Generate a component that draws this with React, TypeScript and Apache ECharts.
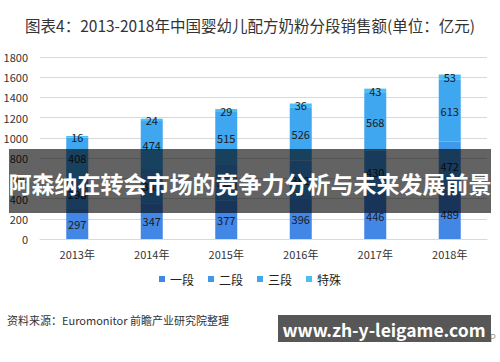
import React, { useEffect, useRef } from "react";
import * as echarts from "echarts";

const categories = ["2013年", "2014年", "2015年", "2016年", "2017年", "2018年"];
const stage1 = [297, 347, 377, 396, 446, 489];
const stage2 = [298, 345, 364, 382, 430, 472];
const stage3 = [408, 474, 515, 526, 568, 613];
const special = [16, 24, 29, 36, 43, 53];
const seriesNames = ["一段", "二段", "三段", "特殊"];
const yTicks = [0, 200, 400, 600, 800, 1000, 1200, 1400, 1600, 1800];

const colors = ["#4286e6", "#3f98ea", "#3fa7ef", "#4dbdf7"];
const font = '"Noto Sans CJK SC", "Noto Sans", sans-serif';

export default function App() {
  const ref = useRef<HTMLDivElement>(null);
  useEffect(() => {
    if (!ref.current) return;
    const chart = echarts.init(ref.current, undefined, { renderer: "svg" });
    const data = [stage1, stage2, stage3, special];
    chart.setOption({
      animation: false,
      textStyle: { fontFamily: font },
      title: {
        text: "图表4：2013-2018年中国婴幼儿配方奶粉分段销售额(单位：亿元)",
        left: "center",
        top: 12,
        textStyle: { fontSize: 15.5, fontWeight: "normal", color: "#333", fontFamily: font },
      },
      legend: {
        bottom: 72,
        left: "center",
        itemWidth: 6,
        itemHeight: 6,
        itemGap: 14,
        icon: "rect",
        textStyle: { fontSize: 12, color: "#222", fontFamily: font },
        data: seriesNames,
      },
      grid: { left: 40, right: 13, top: 57, bottom: 123, containLabel: false },
      xAxis: {
        type: "category",
        data: categories,
        axisLine: { lineStyle: { color: "#d9d9d9" } },
        axisTick: { show: false },
        axisLabel: { fontSize: 11, color: "#333", margin: 9 },
      },
      yAxis: {
        type: "value",
        min: yTicks[0],
        max: yTicks[yTicks.length - 1],
        interval: 200,
        axisLine: { show: false },
        axisTick: { show: false },
        axisLabel: { fontSize: 11, color: "#333", margin: 12, formatter: (v: number) => String(v) },
        splitLine: { lineStyle: { color: "#d9d9d9" } },
      },
      series: seriesNames.map((name, i) => ({
        name,
        type: "bar",
        stack: "total",
        barWidth: 22,
        data: data[i],
        itemStyle: { color: colors[i] },
        label: {
          show: true,
          position: "inside",
          color: "#1a1a1a",
          fontSize: 11,
          fontFamily: font,
        },
      })),
      graphic: [
        {
          type: "rect",
          z: 100,
          shape: { x: 9, y: 149, width: 482, height: 64 },
          style: { fill: "rgba(0,0,0,0.61)" },
        },
        {
          type: "text",
          z: 101,
          x: 250,
          y: 183,
          style: {
            text: "阿森纳在转会市场的竞争力分析与未来发展前景",
            fill: "#ffffff",
            font: `bold 23px ${font}`,
            textAlign: "center",
            textVerticalAlign: "middle",
          },
        },
        {
          type: "text",
          z: 10,
          x: 7,
          y: 320,
          style: {
            text: "资料来源：Euromonitor 前瞻产业研究院整理",
            fill: "#333",
            font: `11px ${font}`,
            textVerticalAlign: "middle",
          },
        },
        {
          type: "text",
          z: 10,
          x: 477,
          y: 337,
          style: {
            text: "APP",
            fill: "#999",
            font: `10px ${font}`,
            textVerticalAlign: "middle",
          },
        },
        {
          type: "rect",
          z: 100,
          shape: { x: 278, y: 315, width: 213, height: 27 },
          style: { fill: "#575757" },
        },
        {
          type: "text",
          z: 101,
          x: 384,
          y: 329,
          style: {
            text: "www.zh-y-leigame.com",
            fill: "#ffffff",
            font: `bold 17.5px ${font}`,
            textAlign: "center",
            textVerticalAlign: "middle",
          },
        },
      ],
    });
    return () => chart.dispose();
  }, []);
  return <div ref={ref} style={{ width: 500, height: 362, position: "absolute", left: 0, top: 0 }} />;
}
